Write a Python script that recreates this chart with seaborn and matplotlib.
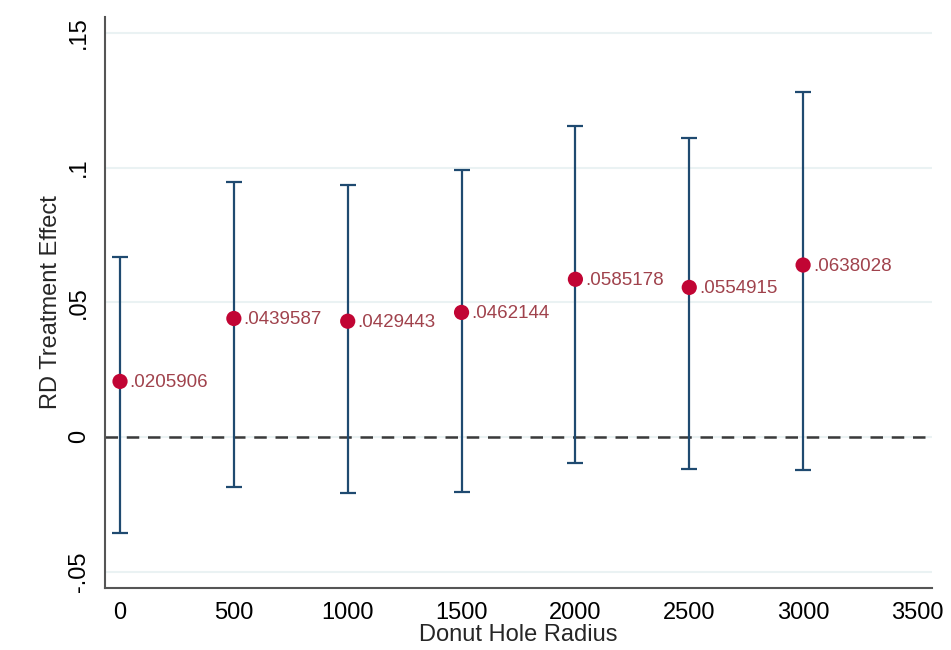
import matplotlib
matplotlib.use("Agg")
import matplotlib.pyplot as plt
import seaborn as sns
import pandas as pd

# Donut RD estimates with confidence intervals
radius = [0, 500, 1000, 1500, 2000, 2500, 3000]
effect = [0.0205906, 0.0439587, 0.0429443, 0.0462144, 0.0585178, 0.0554915, 0.0638028]
ci_low = [-0.0356, -0.0185, -0.0207, -0.0204, -0.0098, -0.0120, -0.0122]
ci_high = [0.0667, 0.0948, 0.0937, 0.0989, 0.1154, 0.1110, 0.1281]

x_ticks = [0, 500, 1000, 1500, 2000, 2500, 3000, 3500]
y_ticks = [-0.05, 0, 0.05, 0.1, 0.15]
y_tick_labels = ["-.05", "0", ".05", ".1", ".15"]

df = pd.DataFrame({"radius": radius, "effect": effect, "lo": ci_low, "hi": ci_high})

sns.set_style("white")
plt.rcParams["font.family"] = ["Liberation Sans", "DejaVu Sans"]

fig = plt.figure(figsize=(9.51, 6.5), dpi=100)
ax = fig.add_axes([0.1104, 0.0954, 0.8696, 0.8785])

# grid lines
for yv in y_ticks:
    ax.axhline(yv, color="#eaf2f3", lw=1.5, zorder=0)

# zero reference line
ax.axhline(0, color="#3a3a3a", lw=1.8, ls=(0, (5, 3.5)), zorder=1)

# confidence intervals
ax.errorbar(df["radius"], df["effect"],
            yerr=[df["effect"] - df["lo"], df["hi"] - df["effect"]],
            fmt="none", ecolor="#1f4a70", elinewidth=1.6, capsize=5.5,
            capthick=1.6, zorder=2)

# point estimates
sns.scatterplot(data=df, x="radius", y="effect", ax=ax, color="#c10534",
                s=120, edgecolor="none", zorder=3, legend=False)

for xv, yv in zip(radius, effect):
    lab = f"{yv:.7f}".lstrip("0")
    ax.annotate(lab, (xv, yv), xytext=(7, -1), textcoords="offset points",
                ha="left", va="center", fontsize=13.5, color="#a0424c")

ax.set_xlim(-66, 3566)
ax.set_ylim(-0.0561, 0.1559)
ax.set_xticks(x_ticks)
ax.set_xticklabels([str(v) for v in x_ticks])
ax.set_yticks(y_ticks)
ax.set_yticklabels(y_tick_labels, rotation=90, va="center")

ax.tick_params(axis="both", which="major", direction="out", length=7,
               width=1.2, color="#555555", labelsize=17, labelcolor="black")
ax.tick_params(axis="y", pad=4)
ax.tick_params(axis="x", pad=3)

for side in ["top", "right"]:
    ax.spines[side].set_visible(False)
for side in ["left", "bottom"]:
    ax.spines[side].set_color("#555555")
    ax.spines[side].set_linewidth(1.5)

ax.set_xlabel("Donut Hole Radius", fontsize=17, labelpad=0)
ax.set_ylabel("RD Treatment Effect", fontsize=17, labelpad=4)

fig.savefig("out.png", dpi=100)
